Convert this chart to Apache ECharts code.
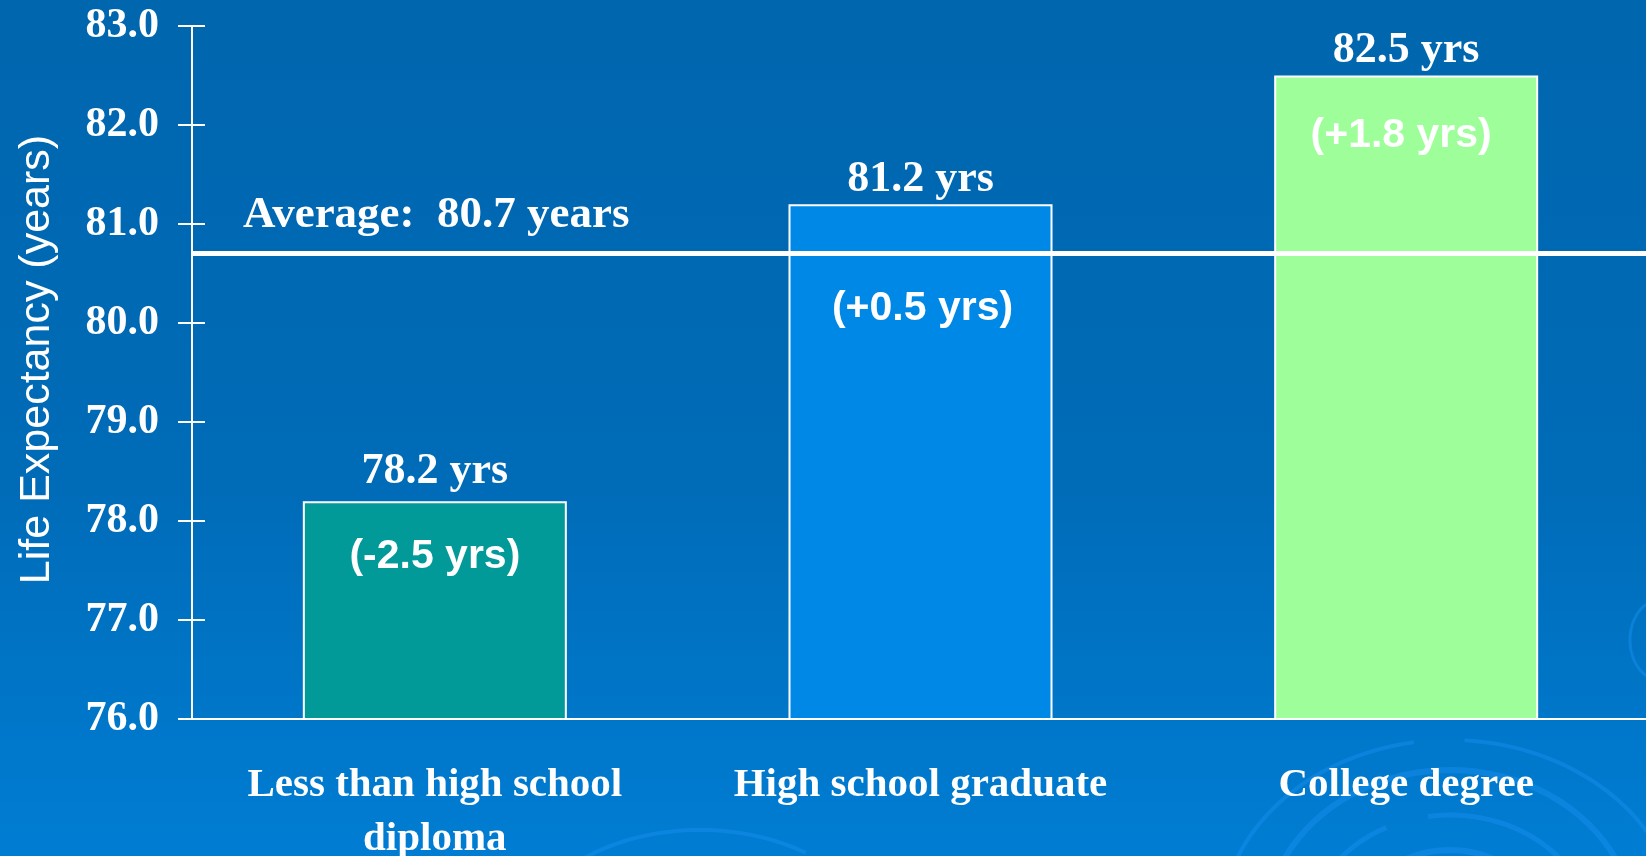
<!DOCTYPE html>
<html>
<head>
<meta charset="utf-8">
<script src="https://cdn.jsdelivr.net/npm/echarts@6/dist/echarts.min.js"></script>
<style>
html,body{margin:0;padding:0;width:1646px;height:856px;overflow:hidden;}
#chart{width:1646px;height:856px;}
</style>
</head>
<body>
<div id="chart"></div>
<script>
var categories = ['Less than high school\ndiploma', 'High school graduate', 'College degree'];
var lifeExpectancy = [78.2, 81.2, 82.5];
var differences = [-2.5, 0.5, 1.8];
var averageValue = 80.7;
var yTicks = { min: 76, max: 83, interval: 1 };
var barColors = ['#029a99', '#0088e6', '#9eff9a'];
var topLabelDistances = [8, 3, 3];
var innerLabelDistances = [35, 84, 40];
var innerLabelShiftX = [0, 2, -5];

var serif = '"Liberation Serif", "Times New Roman", serif';
var sans = '"Liberation Sans", Arial, sans-serif';

var chart = echarts.init(document.getElementById('chart'));

var swirlColor = 'rgba(20,140,235,0.55)';
function arc(cx, cy, rx, ry, a0, a1, w) {
  var pts = [];
  for (var k = 0; k <= 40; k++) {
    var a = a0 + (a1 - a0) * k / 40;
    pts.push([cx + rx * Math.cos(a), cy + ry * Math.sin(a)]);
  }
  return { type: 'polyline', z: -10, silent: true, shape: { points: pts },
           style: { stroke: swirlColor, lineWidth: w, fill: null } };
}
var swirls = [
  arc(1450, 930, 230, 190, Math.PI * 1.05, Math.PI * 1.45, 4),
  arc(1450, 930, 230, 190, Math.PI * 1.52, Math.PI * 1.98, 4),
  arc(1450, 930, 185, 160, Math.PI * 1.02, Math.PI * 1.9, 6),
  arc(1450, 930, 140, 115, Math.PI * 1.1, Math.PI * 1.35, 5),
  arc(1450, 930, 140, 115, Math.PI * 1.45, Math.PI * 1.85, 5),
  arc(1450, 930, 95, 80, Math.PI * 1.0, Math.PI * 1.95, 6),
  arc(1660, 640, 30, 40, Math.PI * 0.5, Math.PI * 1.4, 3),
  arc(700, 950, 180, 120, Math.PI * 1.2, Math.PI * 1.7, 4)
];

var option = {
  backgroundColor: {
    type: 'linear', x: 0, y: 0, x2: 0, y2: 1,
    colorStops: [
      { offset: 0, color: '#0066ae' },
      { offset: 0.55, color: '#006bb7' },
      { offset: 1, color: '#007dd3' }
    ]
  },
  animation: false,
  graphic: swirls,
  grid: { left: 192, right: -3, top: 26, bottom: 137, outerBoundsMode: 'none', containLabel: false },
  xAxis: {
    type: 'category',
    data: categories,
    axisLine: { lineStyle: { color: '#ffffff', width: 2 } },
    axisTick: { show: false },
    axisLabel: {
      color: '#ffffff', fontFamily: serif, fontWeight: 'bold', fontSize: 41,
      lineHeight: 54, margin: 39, interval: 0
    }
  },
  yAxis: [{
    type: 'value',
    min: yTicks.min, max: yTicks.max, interval: yTicks.interval,
    name: 'Life Expectancy (years)',
    nameLocation: 'middle',
    nameGap: 133,
    nameRotate: 90,
    nameTextStyle: { color: '#ffffff', fontFamily: sans, fontSize: 43, padding: [0, 0, 0, 26] },
    axisLine: { show: true, lineStyle: { color: '#ffffff', width: 2 } },
    axisTick: { show: true, length: 14, lineStyle: { color: '#ffffff', width: 2 } },
    splitLine: { show: false },
    axisLabel: {
      color: '#ffffff', fontFamily: serif, fontWeight: 'bold', fontSize: 42, margin: 33,
      formatter: function (v) { return v.toFixed(1); }
    }
  }, {
    type: 'value',
    position: 'left',
    min: yTicks.min, max: yTicks.max, interval: yTicks.interval,
    axisLine: { show: false },
    axisTick: { show: true, inside: true, length: 13, lineStyle: { color: '#ffffff', width: 2 } },
    splitLine: { show: false },
    axisLabel: { show: false }
  }],
  series: [{
    type: 'bar',
    data: lifeExpectancy.map(function (v, i) {
      return { value: v, itemStyle: { color: barColors[i] }, label: { distance: topLabelDistances[i] } };
    }),
    barWidth: 264,
    itemStyle: { borderColor: '#ffffff', borderWidth: 2 },
    label: {
      show: true, position: 'top',
      color: '#ffffff', fontFamily: serif, fontWeight: 'bold', fontSize: 44,
      formatter: function (p) { return p.value.toFixed(1) + ' yrs'; }
    },
    markLine: {
      silent: true,
      symbol: ['none', 'none'],
      lineStyle: { color: '#ffffff', width: 5, type: 'solid' },
      label: {
        show: true, position: 'insideStartTop', distance: [51, 16],
        color: '#ffffff', fontFamily: serif, fontWeight: 'bold', fontSize: 45,
        formatter: function () { return 'Average:  ' + averageValue.toFixed(1) + ' years'; }
      },
      data: [{ yAxis: averageValue }],
      z: 5
    }
  }, {
    type: 'bar',
    barGap: '-100%',
    barWidth: 264,
    data: lifeExpectancy.map(function (v, i) {
      return { value: v, label: { distance: innerLabelDistances[i], offset: [innerLabelShiftX[i], 0] } };
    }),
    itemStyle: { color: 'rgba(0,0,0,0)' },
    label: {
      show: true, position: 'insideTop',
      color: '#ffffff', fontFamily: sans, fontWeight: 'bold', fontSize: 41,
      formatter: function (p) {
        var d = differences[p.dataIndex];
        return '(' + (d > 0 ? '+' : '') + d.toFixed(1) + ' yrs)';
      }
    },
    z: 6
  }]
};

chart.setOption(option);
</script>
</body>
</html>
